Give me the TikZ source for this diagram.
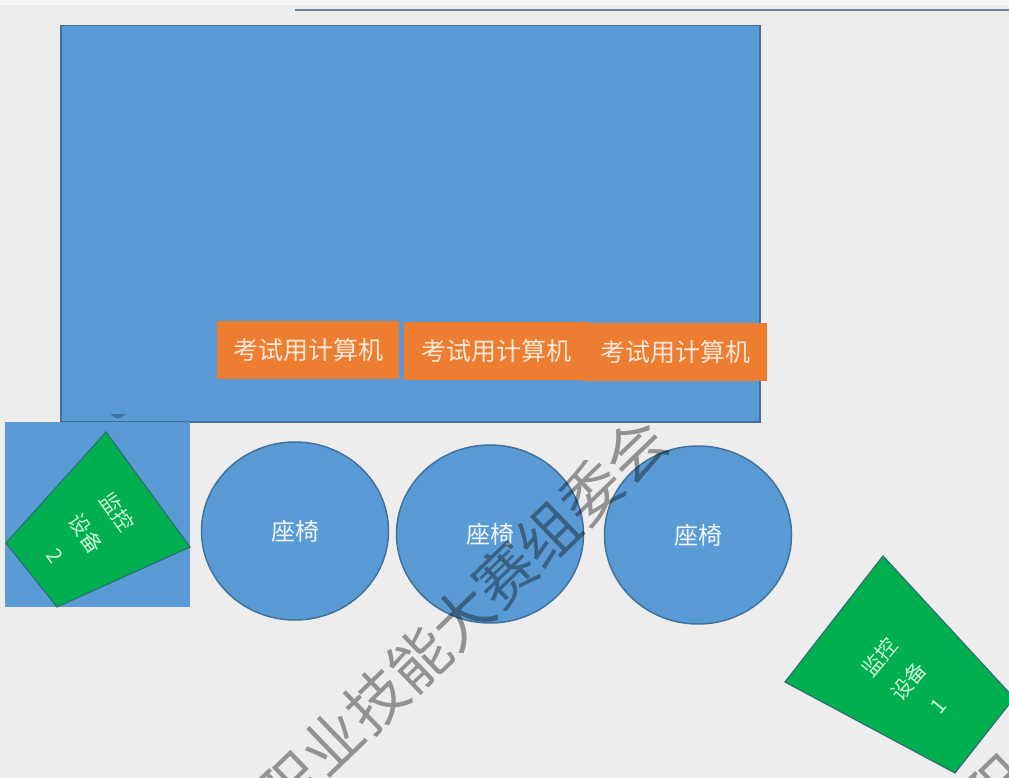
\documentclass[tikz,border=0pt]{standalone}
\usepackage{fontspec}
\newfontfamily\cjk{Noto Sans CJK SC}
\usetikzlibrary{shapes.geometric}
\definecolor{bg}{HTML}{EDEDED}
\definecolor{pblue}{HTML}{5B9BD5}
\definecolor{pblueline}{HTML}{41719C}
\definecolor{porange}{HTML}{ED7D31}
\definecolor{ptext}{HTML}{FCE8D8}
\definecolor{pgreen}{HTML}{00B050}
\definecolor{pgreenline}{HTML}{2F6F72}
\definecolor{pgreentext}{HTML}{CFF2D8}
\definecolor{topline}{HTML}{6A7FA3}
\tikzset{
  board/.style={draw=pblueline, line width=1.5pt, fill=pblue, inner sep=0pt},
  pcbox/.style={fill=porange, inner sep=0pt, minimum height=58pt, text=ptext, font=\cjk\fontsize{25}{28}\selectfont},
  seat/.style={ellipse, draw=pblueline, line width=1.5pt, fill=pblue, inner sep=0pt, minimum width=187pt, minimum height=178pt, text=white!90!pblue, font=\cjk\fontsize{24}{28}\selectfont},
  camshape/.style={draw=pgreenline, line width=1.2pt, fill=pgreen},
  camtext/.style={text=pgreentext, align=center, inner sep=0pt, font=\cjk\fontsize{21}{38}\selectfont},
  watermark/.style={text=black, text opacity=0.38, inner sep=0pt, font=\cjk\fontsize{60}{60}\selectfont}
}
\begin{document}
\begin{tikzpicture}[x=1pt,y=-1pt]
\useasboundingbox (0,0) rectangle (1009,778);
\fill[bg] (0,0) rectangle (1009,778);
\fill[white!55!bg] (0,0) rectangle (1009,5);
\coordinate (ls) at (295,10);
\coordinate (le) at (1009,10);
\draw[topline, line width=2.5pt] (ls) -- (le);
% big board
\node[board, anchor=north west, minimum width=699pt, minimum height=396pt] (board) at (60,25) {};
\fill[pblueline] (110,414) -- (126,414) -- (118,419) -- cycle;
% computers
\node[pcbox, minimum width=182pt] (pc1) at (308,350) {考试用计算机};
\node[pcbox, minimum width=185pt] (pc2) at (496,351) {考试用计算机};
\node[pcbox, minimum width=184pt] (pc3) at (675,352) {考试用计算机};
% left square with camera 2
\node[fill=pblue, inner sep=0pt, anchor=north west, minimum width=185pt, minimum height=185pt] (sq) at (5,422) {};
\draw[camshape] (106,432) -- (190,547) -- (57,607) -- (6,543) -- cycle;
\node[camtext, rotate=-55] (cam2) at (87,533) {监控\\设备\\2};
% seats
\node[seat] (seat1) at (295,531) {座椅};
\node[seat] (seat2) at (490,534) {座椅};
\node[seat] (seat3) at (698,535) {座椅};
% camera 1
\draw[camshape] (883,556) -- (785,682) -- (955,773) -- (1014,698) -- cycle;
\node[camtext, rotate=50] (cam1) at (908,681) {监控\\设备\\1};
% watermark
\begin{scope}
\clip (0,0) rectangle (1009,778);
\node[watermark, rotate=44] (wm1) at (462,617) {职业技能大赛组委会};
\node[watermark, rotate=44] (wm2) at (1168,620) {职业技能大赛组委会};
\end{scope}
\end{tikzpicture}
\end{document}
